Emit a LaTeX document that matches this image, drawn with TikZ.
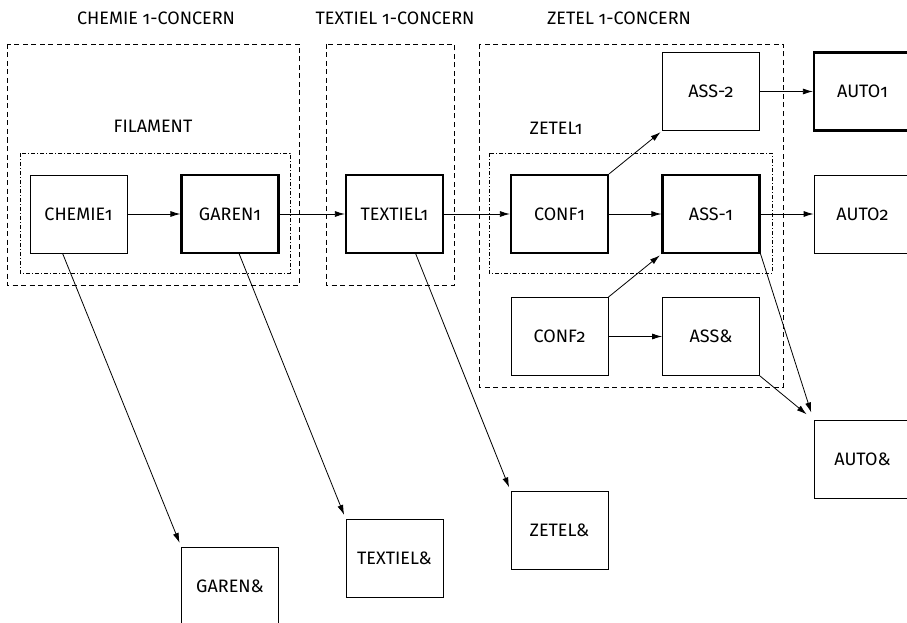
\documentclass[tikz,border=0pt]{standalone}
\usepackage{fontspec}
\setmainfont[Numbers=OldStyle]{Fira Sans}
\usepackage{tikz}
\usetikzlibrary{arrows.meta}

\begin{document}
\begin{tikzpicture}
  [x=1pt,y=1pt,node distance=151.5pt,
   font=\fontsize{18}{20}\selectfont,
   >={Latex[length=10pt,width=6pt]},
   box/.style={draw,line width=0.8pt,minimum width=97pt,minimum height=78pt,inner sep=0pt},
   main/.style={box,line width=2.2pt},
   group/.style={line width=0.8pt,dash pattern=on 5pt off 3.5pt},
   unit/.style={line width=0.8pt,dash pattern=on 4pt off 2pt on 1pt off 2pt}]

  \useasboundingbox (0,0) rectangle (907,-623);

  \node (chemie1) at (78.5,-214) [box] {CHEMIE1};
  \node (garen1) [main,right of=chemie1] {GAREN1};
  \node (textiel1) [main,right of=garen1,node distance=164.5pt] {TEXTIEL1};
  \node (conf1) [main,right of=textiel1,node distance=165pt] {CONF1};
  \node (ass1) [main,right of=conf1] {ASS-1};
  \node (auto2) [box,right of=ass1] {AUTO2};
  \node (ass2) [box,above of=ass1,node distance=122.5pt] {ASS-2};
  \node (auto1) [main,right of=ass2] {AUTO1};
  \node (conf2) [box,below of=conf1,node distance=122.5pt] {CONF2};
  \node (assx) [box,right of=conf2] {ASS\&};
  \node (autox) [box,below of=auto2,node distance=245.5pt] {AUTO\&};
  \node (garenx) [box,below of=garen1,node distance=372pt] {GAREN\&};
  \node (textielx) [box,below of=textiel1,node distance=344pt] {TEXTIEL\&};
  \node (zetelx) [box,below of=conf1,node distance=316.5pt] {ZETEL\&};

  \node (chemiec) at (156,-18) {CHEMIE 1-CONCERN};
  \node (textielc) at (395,-18) {TEXTIEL 1-CONCERN};
  \node (zetelc) at (619,-18) {ZETEL 1-CONCERN};
  \node (filament) at (153,-126) {FILAMENT};
  \node (zetel1) at (556,-128) {ZETEL1};

  % concerns and units
  \draw [group] (7,-44) rectangle (299,-285);
  \draw [group] (326,-44) rectangle (454,-285);
  \draw [group] (479,-44) rectangle (783,-387);
  \draw [unit] (20,-153) rectangle (290,-273);
  \draw [unit] (489,-153) rectangle (772,-273);

\path [->,line width=0.8pt] (chemie1) edge (garen1) (garen1) edge (textiel1) (textiel1) edge (conf1) (conf1) edge (ass1) (ass1) edge (auto2) (ass2) edge (auto1) (conf2) edge (assx) (conf1.north east) edge [shorten >=2pt] (ass2.south west) (conf2.north east) edge [shorten >=2pt] (ass1.south west) (ass1.south east) edge [shorten >=8pt] (autox.north west) (assx.south east) edge [shorten >=9pt] (autox.north west) (chemie1.248) edge [shorten >=4pt] (garenx.north west) (garen1.283) edge [shorten >=4pt] (textielx.north west) (textiel1.298) edge [shorten >=4pt] (zetelx.north west);
\end{tikzpicture}
\end{document}
